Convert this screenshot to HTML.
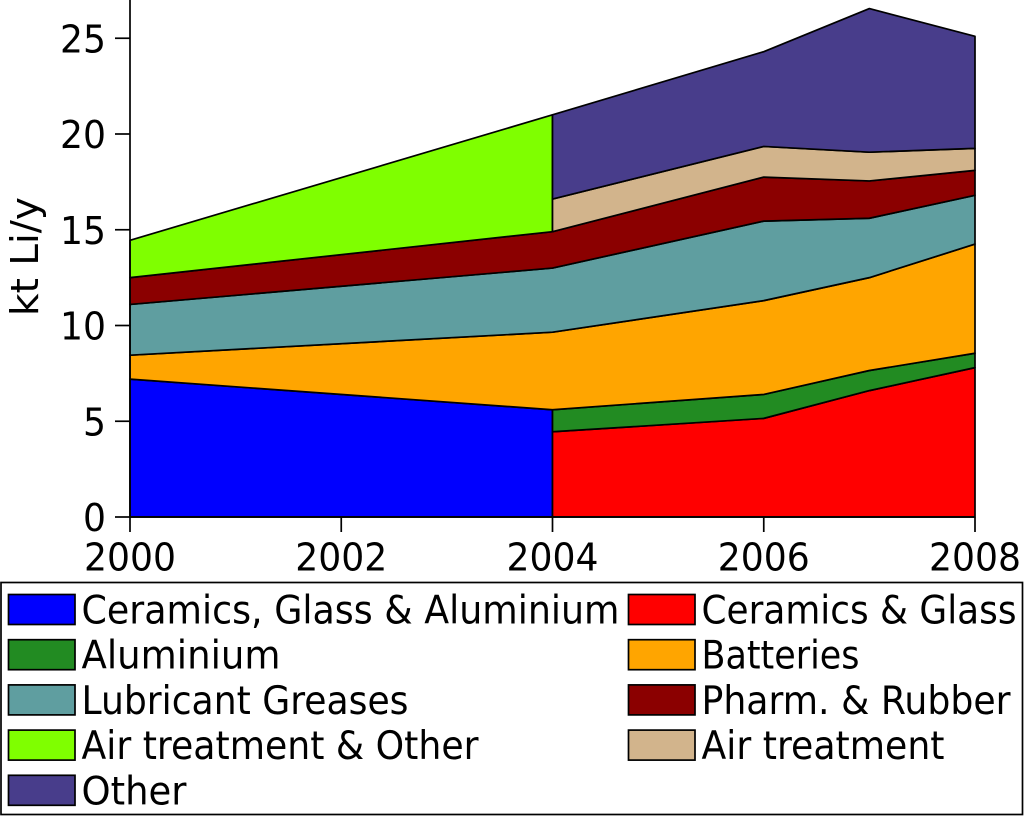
<!DOCTYPE html>
<html lang="en">
<head>
<meta charset="utf-8">
<title>Lithium consumption by end use</title>
<style>
  html, body { margin: 0; padding: 0; background: #fff; }
  svg { display: block; font-family: "DejaVu Sans", "Liberation Sans", sans-serif; fill: #000; }
</style>
</head>
<body>
<svg id="chart" xmlns="http://www.w3.org/2000/svg" width="1024" height="816" viewBox="0 0 1024 816"></svg>
<script>
const years = [2000, 2004, 2006, 2007, 2008];
const yTickValues = [0, 5, 10, 15, 20, 25];
const xTickValues = [2000, 2002, 2004, 2006, 2008];
const yAxisTitle = "kt Li/y";

// Layer thickness per year, bottom to top; null = no data for that year
const ceramicsGlassAluminium = [7.2, 5.6, null, null, null];
const ceramicsGlass = [null, 4.45, 5.15, 6.6, 7.8];
const aluminium = [null, 1.15, 1.25, 1.05, 0.75];
const batteries = [1.25, 4.05, 4.9, 4.85, 5.7];
const lubricantGreases = [2.65, 3.35, 4.15, 3.1, 2.55];
const pharmRubber = [1.4, 1.9, 2.3, 1.95, 1.3];
const airTreatmentOther = [1.95, 6.1, null, null, null];
const airTreatment = [null, 1.7, 1.6, 1.5, 1.15];
const other = [null, 4.4, 4.95, 7.5, 5.85];

const seriesNames = ["Ceramics, Glass & Aluminium", "Ceramics & Glass", "Aluminium", "Batteries", "Lubricant Greases", "Pharm. & Rubber", "Air treatment & Other", "Air treatment", "Other"];
const seriesValues = [ceramicsGlassAluminium, ceramicsGlass, aluminium, batteries, lubricantGreases, pharmRubber, airTreatmentOther, airTreatment, other];
const seriesColors = ["#0000ff", "#ff0000", "#228b22", "#ffa500", "#5f9ea0", "#8b0000", "#7fff00", "#d2b48c", "#483d8b"];

const svg = document.getElementById("chart");
const NS = "http://www.w3.org/2000/svg";
const xScale = function (year) { return 130 + (year - 2000) * (975 - 130) / 8; };
const yScale = function (value) { return 517 - value * 19.15; };
const legendTextWidths = { "Ceramics, Glass & Aluminium": 538, "Ceramics & Glass": 315, "Aluminium": 199, "Batteries": 158, "Lubricant Greases": 327, "Pharm. & Rubber": 309, "Air treatment & Other": 397, "Air treatment": 243, "Other": 105 };

function make(tag, attrs, parent) {
  const el = document.createElementNS(NS, tag);
  for (const key in attrs) { el.setAttribute(key, attrs[key]); }
  (parent || svg).appendChild(el);
  return el;
}
function slug(text) {
  return text.toLowerCase().replace(/[^a-z0-9]+/g, "-").replace(/^-|-$/g, "");
}

// Stacked areas: the categories change at 2004, so the 2000-2004 span and the
// 2004-2008 span each keep their own running stack.
const earlyStack = years.map(function () { return 0; });
const lateStack = years.map(function () { return 0; });
seriesValues.forEach(function (values, s) {
  const inEarly = values[0] !== null;
  const inLate = values[2] !== null;
  const lower = [];
  const upper = [];
  values.forEach(function (v, i) {
    if (v === null) { return; }
    const stack = (i === 0 || (i === 1 && inEarly)) ? earlyStack : lateStack;
    lower.push([xScale(years[i]), yScale(stack[i])]);
    upper.push([xScale(years[i]), yScale(stack[i] + v)]);
  });
  values.forEach(function (v, i) {
    if (v === null) { return; }
    if (inEarly && i <= 1) { earlyStack[i] += v; }
    if (inLate && i >= 1) { lateStack[i] += v; }
  });
  const pts = upper.concat(lower.reverse()).map(function (p) { return p[0].toFixed(2) + "," + p[1].toFixed(2); }).join(" ");
  const area = make("polygon", { points: pts, fill: seriesColors[s], stroke: "#000", "stroke-width": 1.7, "stroke-linejoin": "round" });
  
  
});

// Axes
const yAxisLine = make("line", { x1: 130, y1: 0, x2: 130, y2: 517, stroke: "#000", "stroke-width": 1.7 });


const xAxisLine = make("line", { x1: 130, y1: 517, x2: 975, y2: 517, stroke: "#000", "stroke-width": 1.7 });



yTickValues.forEach(function (v) {
  const tick = make("line", { x1: 115, y1: yScale(v), x2: 130, y2: yScale(v), stroke: "#000", "stroke-width": 1.7 });
  
  
  const label = make("text", { x: 106, y: yScale(v) + 14, "text-anchor": "end", "font-size": 38, textLength: String(v).length * 23, lengthAdjust: "spacingAndGlyphs" });
  label.textContent = v;
  
  
});
xTickValues.forEach(function (v) {
  const tick = make("line", { x1: xScale(v), y1: 517, x2: xScale(v), y2: 532, stroke: "#000", "stroke-width": 1.7 });
  
  
  const label = make("text", { x: xScale(v), y: 570.5, "text-anchor": "middle", "font-size": 38, textLength: 92, lengthAdjust: "spacingAndGlyphs" });
  label.textContent = v;
  
  
});
const yTitle = make("text", { transform: "translate(38 256.5) rotate(-90)", "text-anchor": "middle", "font-size": 38, textLength: 119, lengthAdjust: "spacingAndGlyphs" });
yTitle.textContent = yAxisTitle;



// Legend
const legendBox = make("rect", { x: 1, y: 582.5, width: 1021.5, height: 232, fill: "#fff", stroke: "#000", "stroke-width": 1.7 });


seriesNames.forEach(function (name, s) {
  const col = s % 2;
  const row = Math.floor(s / 2);
  const swatchX = col === 0 ? 8.5 : 628.5;
  const top = 594.5 + row * 45.2;
  const swatch = make("rect", { x: swatchX, y: top, width: 66.5, height: 30, fill: seriesColors[s], stroke: "#000", "stroke-width": 1.7 });
  
  
  const label = make("text", { x: swatchX + 73, y: top + 29, "font-size": 39.5, textLength: legendTextWidths[name], lengthAdjust: "spacingAndGlyphs" });
  label.textContent = name;
  
  
});
</script>
</body>
</html>
